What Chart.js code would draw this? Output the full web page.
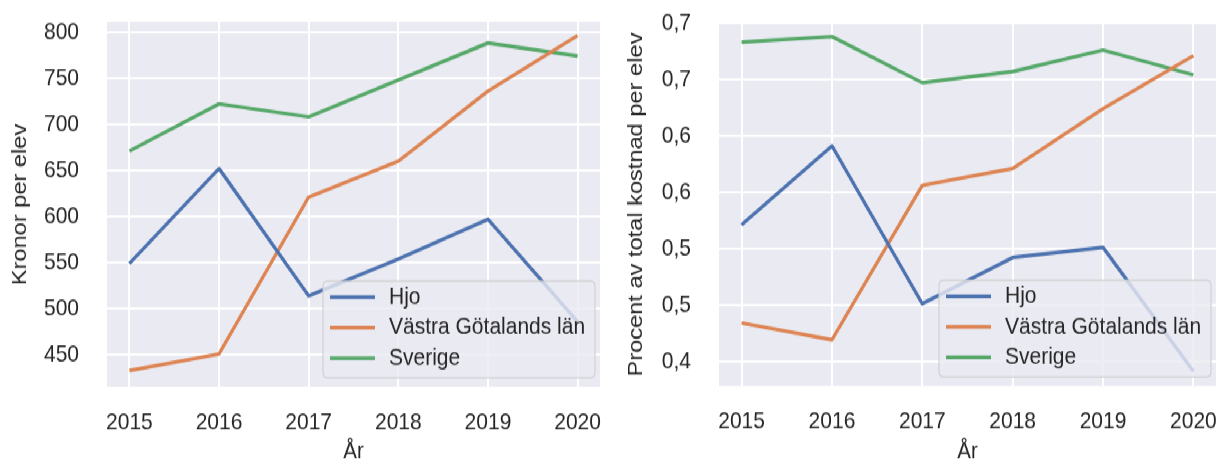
<!DOCTYPE html>
<html>
<head>
<meta charset="utf-8">
<script src="https://cdn.jsdelivr.net/npm/chart.js@4.4.1/dist/chart.umd.min.js"></script>
<style>
  html, body { margin: 0; padding: 0; background: #fff; }
  /* the reference is a little taller than wide, so draw at 403px and stretch */
  #wrap { position: absolute; left: 0; top: 0; width: 1217px; height: 403px;
          transform: scaleY(1.1514); transform-origin: 0 0; }
  .box { position: absolute; top: 0; height: 403px; }
</style>
</head>
<body>
<div id="wrap">
  <div class="box" style="left:0;width:610px"><canvas id="kronor"></canvas></div>
  <div class="box" style="left:610px;width:607px"><canvas id="procent"></canvas></div>
</div>
<script>
const years = [2015, 2016, 2017, 2018, 2019, 2020];
const seriesNames = ['Hjo', 'Västra Götalands län', 'Sverige'];
const colors = ['#4C72B0', '#DD8452', '#55A868'];

// Kronor per elev
const kronorHjo = [549, 652, 514, 554, 597, 486];
const kronorVgl = [433, 451, 621, 660, 736, 796];
const kronorSverige = [671, 722, 708, 748, 788, 774];
const kronorTicks = [450, 500, 550, 600, 650, 700, 750, 800];

// Procent av total kostnad per elev
const procentHjo = [0.521, 0.591, 0.451, 0.492, 0.501, 0.391];
const procentVgl = [0.434, 0.419, 0.556, 0.571, 0.624, 0.671];
const procentSverige = [0.683, 0.688, 0.647, 0.657, 0.676, 0.654];
const procentTicks = [0.40, 0.45, 0.50, 0.55, 0.60, 0.65, 0.70];
const procentTickLabels = ['0,4', '0,5', '0,5', '0,6', '0,6', '0,7', '0,7'];

const FONT = '"Liberation Sans", Arial, sans-serif';
const TEXT = '#262626';
const LINE_W = 3.2;

// grey plot background like seaborn darkgrid
const plotBg = {
  id: 'plotBg',
  beforeDraw(chart) {
    const { ctx, chartArea: a } = chart;
    ctx.save();
    ctx.fillStyle = '#EAEAF2';
    ctx.fillRect(a.left, a.top, a.right - a.left, a.bottom - a.top);
    ctx.restore();
  }
};

// legend drawn inside the plot, lower right
const innerLegend = {
  id: 'innerLegend',
  afterDatasetsDraw(chart) {
    const { ctx, chartArea: a } = chart;
    const w = 272, h = 84;
    const x = a.right - 5 - w, y = a.bottom - 8 - h;
    ctx.save();
    ctx.beginPath();
    ctx.roundRect(x, y, w, h, 4);
    ctx.fillStyle = 'rgba(234,234,242,0.8)';
    ctx.fill();
    ctx.strokeStyle = '#CCCCCC';
    ctx.lineWidth = 1;
    ctx.stroke();
    ctx.font = '21px ' + FONT;
    ctx.textBaseline = 'middle';
    chart.data.datasets.forEach((ds, i) => {
      const ry = y + 14 + i * 26.5;
      ctx.strokeStyle = ds.borderColor;
      ctx.lineWidth = LINE_W;
      ctx.beginPath();
      ctx.moveTo(x + 7, ry);
      ctx.lineTo(x + 52, ry);
      ctx.stroke();
      ctx.fillStyle = TEXT;
      ctx.fillText(ds.label, x + 66, ry);
    });
    ctx.restore();
  }
};

function makeChart(id, series, yMin, yMax, yTicks, yLabel, yTitle, lay) {
  return new Chart(document.getElementById(id), {
    type: 'line',
    data: {
      datasets: series.map((vals, i) => ({
        label: seriesNames[i],
        data: years.map((yr, j) => ({ x: yr, y: vals[j] })),
        borderColor: colors[i],
        backgroundColor: colors[i],
        borderWidth: LINE_W,
        borderJoinStyle: 'round',
        pointRadius: 0,
        tension: 0
      }))
    },
    options: {
      responsive: true,
      maintainAspectRatio: false,
      animation: false,
      layout: { autoPadding: false, padding: { left: 0, right: lay.right, top: lay.top, bottom: 0 } },
      plugins: { legend: { display: false }, tooltip: { enabled: false } },
      scales: {
        x: {
          type: 'linear',
          min: 2014.75,
          max: 2020.25,
          bounds: 'data',
          afterBuildTicks: s => { s.ticks = years.map(v => ({ value: v })); },
          afterFit: s => { s.height = lay.xHeight; s.paddingLeft = 0; s.paddingRight = 0; },
          grid: { color: '#fff', lineWidth: 2, drawTicks: false },
          border: { display: false },
          ticks: { callback: v => String(v), padding: 18.7, color: TEXT,
                   font: { family: FONT, size: 21 }, maxRotation: 0, autoSkip: false },
          title: { display: true, text: 'År', color: TEXT, padding: 0,
                   font: { family: FONT, size: 20.5, lineHeight: 1 } }
        },
        y: {
          type: 'linear',
          min: yMin,
          max: yMax,
          bounds: 'data',
          afterBuildTicks: s => { s.ticks = yTicks.map(v => ({ value: v })); },
          afterFit: s => { s.width = lay.yWidth; s.paddingTop = 0; s.paddingBottom = 0; },
          grid: { color: '#fff', lineWidth: 2, drawTicks: false },
          border: { display: false },
          ticks: { callback: yLabel, padding: 28, color: TEXT,
                   font: { family: FONT, size: 21 }, autoSkip: false },
          title: { display: true, text: yTitle, color: TEXT, padding: { top: lay.titlePad, bottom: 0 },
                   font: { family: FONT, size: 20.5, lineHeight: 1 } }
        }
      }
    },
    plugins: [plotBg, innerLegend]
  });
}

makeChart('kronor', [kronorHjo, kronorVgl, kronorSverige], 415.3, 810.8, kronorTicks,
  v => String(v), 'Kronor per elev',
  { right: 10, top: 19.1, xHeight: 66.9, yWidth: 107, titlePad: 10 });

makeChart('procent', [procentHjo, procentVgl, procentSverige], 0.378, 0.7, procentTicks,
  (v, i) => procentTickLabels[i], 'Procent av total kostnad per elev',
  { right: 1, top: 20, xHeight: 67.7, yWidth: 109, titlePad: 16 });
</script>
</body>
</html>
